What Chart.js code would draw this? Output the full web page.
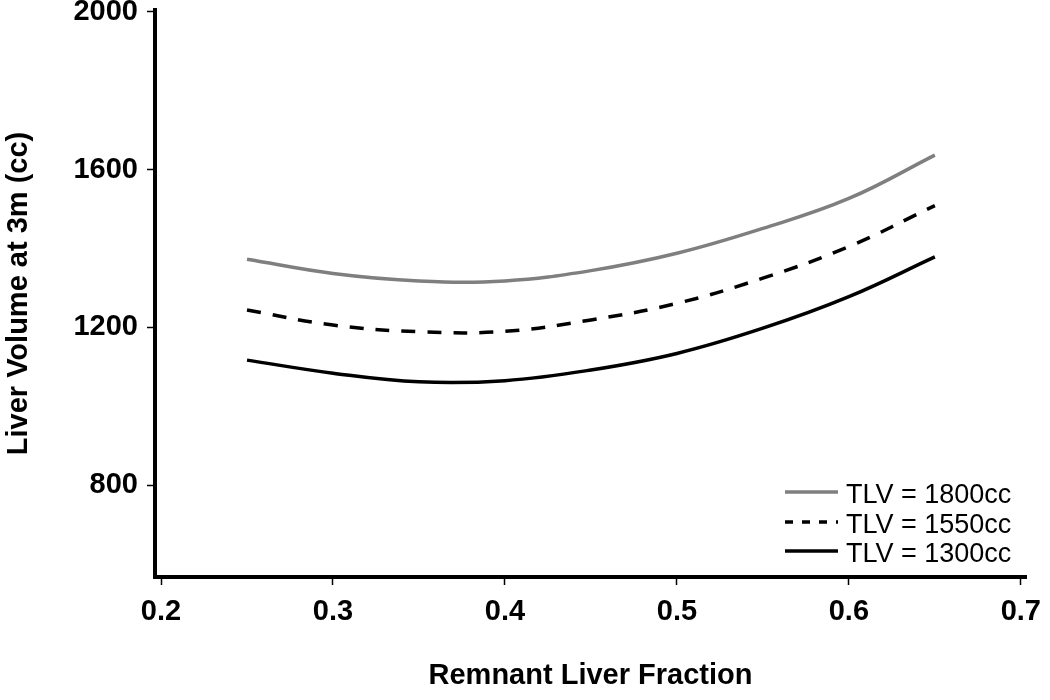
<!DOCTYPE html>
<html>
<head>
<meta charset="utf-8">
<script src="https://cdn.jsdelivr.net/npm/chart.js@4.4.1/dist/chart.umd.min.js"></script>
<style>
  html, body { margin: 0; padding: 0; background: #fff; }
  #wrap { width: 1050px; height: 700px; }
</style>
</head>
<body>
<div id="wrap"><canvas id="myChart" width="1050" height="700"></canvas></div>
<script>
// remnant liver fraction (x)
var fractions = [0.25, 0.3, 0.35, 0.4, 0.45, 0.5, 0.55, 0.6, 0.65];
// liver volume at 3 months (cc)
var tlv1800 = [1373, 1337, 1318, 1318, 1344, 1388, 1451, 1527, 1637];
var tlv1550 = [1244, 1206, 1189, 1190, 1219, 1261, 1325, 1405, 1509];
var tlv1300 = [1117, 1084, 1062, 1065, 1092, 1134, 1198, 1278, 1379];
var seriesLabels = ["TLV = 1800cc", "TLV = 1550cc", "TLV = 1300cc"];
var xTicks = [0.2, 0.3, 0.4, 0.5, 0.6, 0.7];
var yTicks = [800, 1200, 1600, 2000];

function toPoints(values) {
  return fractions.map(function (f, i) {
    return { x: f, y: values[i] };
  });
}

var tickFont = { family: "'Liberation Sans', Arial, sans-serif", size: 29, weight: "bold" };

// legend drawn inside the plot, bottom right
var legendPlugin = {
  id: "cornerLegend",
  afterDraw: function (chart) {
    var ctx = chart.ctx;
    var rows = [492, 522, 551];
    var legendDash = [[], [8, 9], []];
    ctx.save();
    chart.data.datasets.forEach(function (ds, i) {
      ctx.beginPath();
      ctx.setLineDash(legendDash[i]);
      ctx.strokeStyle = ds.borderColor;
      ctx.lineWidth = 3.5;
      ctx.moveTo(785, rows[i]);
      ctx.lineTo(838, rows[i]);
      ctx.stroke();
      ctx.setLineDash([]);
      ctx.fillStyle = "#000";
      ctx.font = "27px 'Liberation Sans', Arial, sans-serif";
      ctx.textBaseline = "middle";
      ctx.textAlign = "left";
      ctx.fillText(ds.label, 846, rows[i] + 4);
    });
    ctx.restore();
  },
};

var ctx = document.getElementById("myChart").getContext("2d");
var myChart = new Chart(ctx, {
  type: "line",
  data: {
    datasets: [
      {
        label: seriesLabels[0],
        data: toPoints(tlv1800),
        borderColor: "#7f7f7f",
        borderWidth: 3.5,
      },
      {
        label: seriesLabels[1],
        data: toPoints(tlv1550),
        borderColor: "#000000",
        borderWidth: 3.5,
        borderDash: [14, 12],
      },
      {
        label: seriesLabels[2],
        data: toPoints(tlv1300),
        borderColor: "#000000",
        borderWidth: 3.5,
      },
    ],
  },
  options: {
    responsive: false,
    animation: false,
    layout: { padding: { left: 0, top: 10, right: 24, bottom: 0 } },
    elements: {
      point: { radius: 0 },
      line: { tension: 0.4, fill: false },
    },
    plugins: {
      legend: { display: false },
      tooltip: { enabled: false },
    },
    scales: {
      x: {
        type: "linear",
        min: 0.1965,
        max: 0.703,
        afterBuildTicks: function (scale) {
          scale.ticks = xTicks.map(function (v) { return { value: v }; });
        },
        afterFit: function (scale) {
          scale.height = 123;
          scale.paddingLeft = 0;
          scale.paddingRight = 0;
        },
        border: { display: true, color: "#000", width: 4 },
        grid: { drawOnChartArea: false, drawTicks: true, tickLength: 8, tickWidth: 1.5, tickColor: "#000" },
        ticks: {
          color: "#000",
          font: tickFont,
          padding: 10,
          maxRotation: 0,
          callback: function (v) { return v.toFixed(1); },
        },
        title: {
          display: true,
          text: "Remnant Liver Fraction",
          color: "#000",
          font: tickFont,
          padding: { top: 0, bottom: 7 },
        },
      },
      y: {
        min: 567,
        max: 2005,
        afterBuildTicks: function (scale) {
          scale.ticks = yTicks.map(function (v) { return { value: v }; });
        },
        afterFit: function (scale) {
          scale.width = 155;
          scale.paddingTop = 0;
          scale.paddingBottom = 0;
        },
        border: { display: true, color: "#000", width: 4 },
        grid: { drawOnChartArea: false, drawTicks: true, tickLength: 8, tickWidth: 1.5, tickColor: "#000" },
        ticks: {
          color: "#000",
          font: tickFont,
          padding: 9,
          callback: function (v) { return String(v); },
        },
        title: {
          display: true,
          text: "Liver Volume at 3m (cc)",
          color: "#000",
          font: tickFont,
          padding: { top: 2, bottom: 0 },
        },
      },
    },
  },
  plugins: [legendPlugin],
});
</script>
</body>
</html>
